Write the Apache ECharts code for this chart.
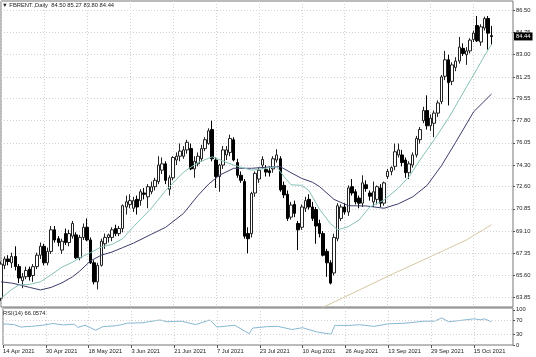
<!DOCTYPE html>
<html><head><meta charset="utf-8">
<script src="https://cdn.jsdelivr.net/npm/echarts@6/dist/echarts.min.js"></script>
<style>html,body{margin:0;padding:0;background:#fff}#c{width:536px;height:357px}</style>
</head><body><div id="c"></div>
<script>
// ---------- DATA ----------
const SYMBOL = 'FBRENT.,Daily';
const START_DATE = [2021, 3, 14]; // 14 Apr 2021 (month 0-based)
const EXTRA_SLOTS = 6;            // empty bars on the right

const OPEN = [63.8,66.4,66.9,66.6,67.1,66.3,65.2,65.5,66.1,65.6,66.3,67.2,67.9,66.6,67.5,69.2,68.5,67.6,68.9,68.2,
68.7,68.8,67.0,68.6,69.4,68.4,66.6,65.1,66.4,68.1,68.6,68.6,69.3,68.9,69.3,71.0,71.2,70.9,71.6,71.5,
72.1,71.8,72.2,72.6,73.0,73.9,74.4,72.4,73.3,74.7,75.0,75.0,75.5,75.6,74.0,74.4,74.8,75.6,76.0,77.1,
74.7,73.4,74.3,75.1,75.3,76.3,74.5,73.5,73.0,68.9,68.9,72.1,73.2,74.3,73.95,73.85,74.0,74.7,74.8,72.7,
72.0,70.2,71.2,69.7,69.4,70.9,71.6,71.0,70.8,69.7,68.9,67.5,66.6,65.8,68.5,70.1,71.0,70.6,72.6,72.2,
71.7,71.3,72.75,72.1,71.4,71.6,72.5,71.3,73.4,73.8,74.2,75.1,75.1,74.7,73.7,74.3,75.1,76.3,77.8,78.6,
77.4,77.6,78.4,79.3,81.3,82.6,80.9,82.0,82.5,83.5,83.0,83.3,84.2,85.3,84.0,85.1,85.85,84.50];
const HIGH = [66.7,67.1,67.2,67.4,67.9,66.5,65.8,66.3,66.3,66.5,67.4,68.2,68.1,67.8,69.5,69.5,68.7,68.5,69.3,69.2,
69.9,69.0,68.8,69.7,70.1,68.6,66.8,66.6,68.5,68.9,68.9,69.4,69.6,69.5,71.2,71.9,72.0,71.8,71.9,72.4,
72.5,72.8,73.0,73.3,75.0,74.9,74.6,73.5,75.0,75.3,76.0,75.8,76.3,76.0,75.0,75.3,75.9,76.5,77.2,77.8,
74.9,74.4,75.8,75.8,76.7,76.5,74.8,73.8,73.2,69.4,72.2,73.8,74.1,75.0,74.3,74.2,75.0,75.55,75.0,73.0,
72.3,71.4,71.5,69.9,71.2,71.8,72.0,71.4,71.0,70.0,69.1,67.7,66.8,68.9,71.3,71.2,71.3,72.7,73.2,72.4,
71.9,73.5,73.1,72.3,73.0,72.7,72.8,73.0,74.0,74.2,76.0,76.0,75.5,74.9,74.6,75.3,76.6,77.3,78.9,79.8,
78.3,78.6,79.4,81.4,83.3,83.0,82.4,82.8,84.4,83.9,83.6,84.3,84.9,86.05,85.4,86.0,86.05,85.27];
const LOW = [63.6,66.1,66.4,66.2,66.0,65.0,64.6,65.3,65.2,65.1,66.1,66.9,66.4,66.4,67.3,68.2,67.9,67.3,68.0,67.9,
68.5,66.9,66.8,68.4,68.3,66.5,64.9,64.5,66.3,67.7,68.2,68.3,68.7,68.7,69.0,70.4,70.9,70.6,70.4,71.1,
71.6,70.9,72.0,72.3,72.8,73.6,72.8,71.9,73.1,74.3,74.6,74.8,75.2,73.9,73.3,74.2,74.6,75.4,75.9,74.6,
72.5,72.2,74.0,74.7,75.0,74.6,73.3,72.9,68.5,67.35,68.6,71.8,72.9,74.0,73.4,73.4,73.7,74.5,72.2,71.7,
69.9,70.0,70.2,67.6,69.2,70.6,70.8,69.9,68.1,68.6,67.1,65.5,64.9,65.6,68.3,69.9,70.4,70.3,71.9,71.2,
70.9,71.0,72.2,71.5,71.0,71.2,71.0,71.1,73.2,73.5,73.9,74.9,74.2,73.3,73.2,74.1,74.9,76.0,77.6,77.1,
77.0,76.5,78.1,79.1,81.0,79.0,80.6,81.7,82.3,82.9,82.2,83.1,84.0,84.0,83.7,84.9,83.4,83.80];
const CLOSE = [66.5,66.9,66.7,67.1,66.3,65.4,65.5,66.0,65.5,66.3,67.2,67.9,66.6,67.5,69.2,68.4,68.2,68.3,68.2,68.9,
69.7,67.0,68.6,69.4,68.4,66.6,65.1,66.4,68.3,68.6,68.8,69.2,68.9,69.3,71.1,71.4,71.5,71.5,71.0,72.2,
72.0,72.6,72.6,73.1,74.3,74.4,73.1,73.3,74.9,75.0,75.4,75.5,76.1,74.0,74.6,75.0,75.6,76.3,77.0,74.8,
73.4,74.3,75.5,75.5,76.4,74.7,73.5,73.1,68.7,68.5,72.07,73.65,73.9,74.75,73.75,73.7,74.8,75.1,72.34,71.95,
70.1,71.15,70.5,69.2,71.0,71.5,71.0,70.1,69.5,68.9,67.2,66.6,65.0,68.6,71.1,71.0,70.6,72.5,72.1,71.4,
71.3,72.9,72.45,71.85,72.2,72.6,71.3,72.9,73.8,74.1,75.35,75.5,74.5,73.7,74.4,75.1,76.4,77.1,78.6,77.4,
78.0,78.4,79.2,81.25,82.6,80.8,82.2,82.5,83.6,83.1,83.3,84.15,84.7,84.1,85.2,85.85,84.7,84.44];

const PRICE_TICKS = [63.85,65.60,67.35,69.10,70.85,72.60,74.30,76.05,77.80,79.55,81.25,83.00,84.75,86.50];

// moving averages at bar indices
const MA_FAST_IDX = [0,3,5,8,11,14,17,20,22,25,28,31,34,37,42,46,51,55,59,65,70,74,77,79,81,84,86,89,92,94,97,100,103,107,111,114,117,121,125,130,133,135,137];
const MA_FAST     = [63.8,64.5,64.85,64.9,65.1,65.65,66.25,66.65,67.0,67.4,67.85,68.05,68.5,69.45,70.9,72.3,73.75,74.5,74.95,74.3,73.9,74.05,74.18,73.4,72.75,72.7,72.3,70.8,69.7,69.2,69.45,69.97,71.0,71.55,72.5,73.4,74.7,76.3,78.0,80.45,81.9,82.9,83.8];
const MA_SLOW_IDX = [0,3,5,8,11,14,17,20,22,25,28,31,34,37,42,46,51,55,58,61,65,70,75,78,81,84,87,89,93,97,102,107,111,115,119,123,127,132,137];
const MA_SLOW     = [65.1,65.0,64.88,64.66,64.46,64.66,65.02,65.5,65.95,66.75,67.2,67.45,67.8,68.15,68.85,69.4,70.5,71.9,72.8,73.5,74.05,74.05,74.15,74.18,73.7,73.25,72.95,72.6,71.6,71.1,71.08,70.9,71.25,71.8,72.7,74.25,76.1,78.5,79.9];
const MA_LONG_IDX = [86,90,100,110,122,130,137];
const MA_LONG     = [62.6,63.1,64.45,65.8,67.35,68.4,69.6];

const RSI_PERIOD = 14;
const RSI_LAST = 66.0574;
const RSI_IDX = [0,3,5,8,11,14,17,20,21,23,26,28,32,35,39,44,46,50,54,58,60,65,69,70,74,77,81,84,88,92,93,97,100,104,108,113,118,121,123,125,128,132,134,135,137];
const RSI_VAL = [60,58,51,53,56,61,57,59,50,56,42,52,55,62,63,71,66,67.5,58,71,51,56,32,48,52,53,44,49,37,30.6,55.6,55.6,57.5,52.8,60,62,67.5,67.5,77,65.8,69.4,74.2,71.4,74.2,66.06];
const RSI_TICKS = [0,30,70,100];
const RSI_LEVELS = [30,70];
const LABEL_EVERY = 12;

// ---------- BUILD ----------
const MONTHS = ['Jan','Feb','Mar','Apr','May','Jun','Jul','Aug','Sep','Oct','Nov','Dec'];
const dates = [];
{
  const d = new Date(Date.UTC(START_DATE[0], START_DATE[1], START_DATE[2]));
  while (dates.length < OPEN.length) {
    const wd = d.getUTCDay();
    if (wd !== 0 && wd !== 6) dates.push(d.getUTCDate() + ' ' + MONTHS[d.getUTCMonth()] + ' ' + d.getUTCFullYear());
    d.setUTCDate(d.getUTCDate() + 1);
  }
  for (let k = 0; k < EXTRA_SLOTS; k++) dates.push('');
}
const N = OPEN.length, L = N - 1;
const pairs = (idx, val) => idx.map((i, k) => [i, val[k]]);

const FONT = 'Liberation Sans';
const TXT = '#222';
const GRIDC = '#d2d2d2';
const FS = 5.8;
// main panel geometry: y=1 .. 307, 86.50 at y=10.3, 63.85 at y=297.7
const Y_MAX = 87.233, Y_MIN = 63.117;

const chart = echarts.init(document.getElementById('c'), null, {renderer: 'canvas'});
chart.setOption({
  animation: false,
  backgroundColor: '#fff',
  textStyle: {fontFamily: FONT},
  title: [
    {text: '\u25BC ' + SYMBOL + '  ' + [OPEN[L], HIGH[L], LOW[L], CLOSE[L]].map(v => v.toFixed(2)).join(' '),
     left: 2, top: 2, padding: 0,
     textStyle: {fontSize: FS, fontWeight: 'normal', color: TXT, fontFamily: FONT}},
    {text: 'RSI(' + RSI_PERIOD + ') ' + RSI_LAST.toFixed(4),
     left: 3, top: 310, padding: 0,
     textStyle: {fontSize: FS, fontWeight: 'normal', color: TXT, fontFamily: FONT}}
  ],
  grid: [
    {left: 1, top: 1, width: 512, height: 306, show: true, borderColor: '#777', borderWidth: 1},
    {left: 1, top: 308, width: 512, height: 37, show: true, borderColor: '#777', borderWidth: 1}
  ],
  xAxis: [
    {type: 'category', gridIndex: 0, data: dates, boundaryGap: false,
     axisLine: {show: false}, axisTick: {show: false}, axisLabel: {show: false},
     splitLine: {show: true, interval: LABEL_EVERY - 1, lineStyle: {color: GRIDC, type: [1, 2], width: 1}}},
    {type: 'category', gridIndex: 1, data: dates, boundaryGap: false,
     axisLine: {show: false},
     axisTick: {show: true, interval: LABEL_EVERY - 1, length: 3, lineStyle: {color: '#555'}},
     axisLabel: {interval: LABEL_EVERY - 1, align: 'left', fontSize: FS, color: TXT, margin: 3, fontFamily: FONT},
     splitLine: {show: true, interval: LABEL_EVERY - 1, lineStyle: {color: GRIDC, type: [1, 2], width: 1}}}
  ],
  yAxis: [
    {type: 'value', gridIndex: 0, position: 'right', min: Y_MIN, max: Y_MAX, scale: true,
     axisLine: {show: false},
     axisTick: {show: true, customValues: PRICE_TICKS, length: 2, lineStyle: {color: '#555'}},
     axisLabel: {customValues: PRICE_TICKS, formatter: v => Number(v).toFixed(2), fontSize: FS, color: TXT, margin: 3, fontFamily: FONT},
     splitLine: {show: true, lineStyle: {color: GRIDC, type: [1, 2], width: 1}}},
    {type: 'value', gridIndex: 1, position: 'right', min: 0, max: 105,
     axisLine: {show: false},
     axisTick: {show: true, customValues: RSI_TICKS, length: 2, lineStyle: {color: '#555'}},
     axisLabel: {customValues: RSI_TICKS, fontSize: FS, color: TXT, margin: 3, fontFamily: FONT},
     splitLine: {show: false}}
  ],
  series: [
    {type: 'candlestick', xAxisIndex: 0, yAxisIndex: 0, barWidth: 3,
     data: OPEN.map((o, i) => [o, CLOSE[i], LOW[i], HIGH[i]]),
     itemStyle: {color: '#ffffff', color0: '#000000', borderColor: '#222', borderColor0: '#000', borderWidth: 1},
     markLine: {silent: true, symbol: 'none', animation: false,
       data: [{yAxis: CLOSE[L]}],
       lineStyle: {color: 'rgba(0,0,0,0)', width: 0},
       label: {show: true, position: 'end', distance: 1, formatter: () => CLOSE[L].toFixed(2),
               backgroundColor: '#000', color: '#fff', fontSize: FS, padding: [1, 2, 1, 2], fontFamily: FONT}}},
    {type: 'line', xAxisIndex: 0, yAxisIndex: 0, data: pairs(MA_LONG_IDX, MA_LONG), showSymbol: false, smooth: false,
     lineStyle: {color: '#d6c7a4', width: 1}, z: 3},
    {type: 'line', xAxisIndex: 0, yAxisIndex: 0, data: pairs(MA_SLOW_IDX, MA_SLOW), showSymbol: false,
     lineStyle: {color: '#3c3d6b', width: 1}, z: 3},
    {type: 'line', xAxisIndex: 0, yAxisIndex: 0, data: pairs(MA_FAST_IDX, MA_FAST), showSymbol: false,
     lineStyle: {color: '#86c2b8', width: 1}, z: 3},
    {type: 'line', xAxisIndex: 1, yAxisIndex: 1, data: pairs(RSI_IDX, RSI_VAL), showSymbol: false,
     lineStyle: {color: '#86b9d2', width: 1},
     markLine: {silent: true, symbol: 'none', animation: false,
       data: RSI_LEVELS.map(v => ({yAxis: v})),
       lineStyle: {color: GRIDC, type: [1, 2], width: 1}, label: {show: false}}}
  ]
});
</script>
</body></html>
